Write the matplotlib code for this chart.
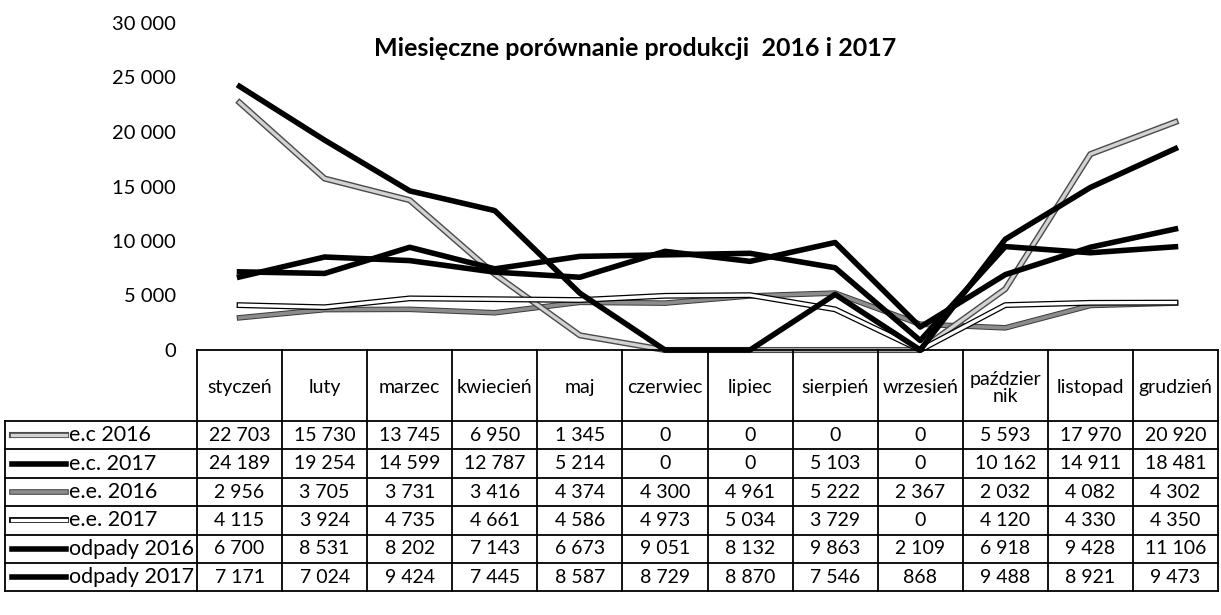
import matplotlib
matplotlib.use("Agg")
import matplotlib.pyplot as plt
import matplotlib.patheffects as pe
import numpy as np

plt.rcParams['font.family'] = ['Lato', 'DejaVu Sans']

months = ["styczeń", "luty", "marzec", "kwiecień", "maj", "czerwiec", "lipiec",
          "sierpień", "wrzesień", "paździer\nnik", "listopad", "grudzień"]
series_names = ["e.c 2016", "e.c. 2017", "e.e. 2016", "e.e. 2017", "odpady 2016", "odpady 2017"]
ec_2016 = [22703, 15730, 13745, 6950, 1345, 0, 0, 0, 0, 5593, 17970, 20920]
ec_2017 = [24189, 19254, 14599, 12787, 5214, 0, 0, 5103, 0, 10162, 14911, 18481]
ee_2016 = [2956, 3705, 3731, 3416, 4374, 4300, 4961, 5222, 2367, 2032, 4082, 4302]
ee_2017 = [4115, 3924, 4735, 4661, 4586, 4973, 5034, 3729, 0, 4120, 4330, 4350]
odpady_2016 = [6700, 8531, 8202, 7143, 6673, 9051, 8132, 9863, 2109, 6918, 9428, 11106]
odpady_2017 = [7171, 7024, 9424, 7445, 8587, 8729, 8870, 7546, 868, 9488, 8921, 9473]
y_ticks = [0, 5000, 10000, 15000, 20000, 25000, 30000]
title = "Miesięczne porównanie produkcji  2016 i 2017"

series = [ec_2016, ec_2017, ee_2016, ee_2017, odpady_2016, odpady_2017]

# styles: (inner colour, inner width, outline colour, outline width)
styles = [
    ("#d2d2d2", 2.4, "#4a4a4a", 4.4),
    ("#000000", 4.0, None, None),
    ("#8c8c8c", 2.6, "#3a3a3a", 4.0),
    ("#ffffff", 2.4, "#000000", 4.2),
    ("#000000", 4.0, None, None),
    ("#000000", 4.0, None, None),
]

W, H = 1221, 615
fig = plt.figure(figsize=(W / 100, H / 100), dpi=100)
fig.patch.set_facecolor("white")

x0, x1 = 197, 1218
ytop, ybot = 23, 350
ax = fig.add_axes([x0 / W, 1 - ybot / H, (x1 - x0) / W, (ybot - ytop) / H])
n = len(months)
x = np.arange(n)
ax.set_xlim(-0.5, n - 0.5)
ax.set_ylim(0, 30000)

zorders = [3, 5, 2, 3, 4, 4]
for vals, (c, lw, oc, ow), z in zip(series, styles, zorders):
    if oc is None:
        ax.plot(x, vals, color=c, lw=lw, zorder=z, clip_on=False)
    else:
        ax.plot(x, vals, color=c, lw=lw, zorder=z, clip_on=False,
                path_effects=[pe.Stroke(linewidth=ow, foreground=oc), pe.Normal()])

ax.set_yticks(y_ticks)
ax.set_yticklabels([f"{v:,}".replace(",", " ") for v in y_ticks], fontsize=14.5)
ax.tick_params(axis="y", length=0, pad=15)
ax.set_xticks([])
for s in ["top", "right", "left", "bottom"]:
    ax.spines[s].set_visible(False)
ax.set_facecolor("none")

fig.text(635 / W, 1 - 48 / H, title, ha="center", va="center", fontsize=18, fontweight="bold")

# table drawn on a pixel-coordinate overlay axes
tx = fig.add_axes([0, 0, 1, 1])
tx.set_xlim(0, W)
tx.set_ylim(H, 0)
tx.axis("off")

col_w = (x1 - x0) / n
col_edges = [x0 + i * col_w for i in range(n + 1)]
head_top, head_bot = 350, 421
row_h = 28.4
row_edges = [head_bot + i * row_h for i in range(len(series) + 1)]
left = 5
lc = "black"
lwt = 1.3

tx.plot([x0, x1], [head_top, head_top], color=lc, lw=lwt)
for xe in col_edges:
    tx.plot([xe, xe], [head_top, row_edges[-1]], color=lc, lw=lwt)
for ye in row_edges:
    tx.plot([left, x1], [ye, ye], color=lc, lw=lwt)
tx.plot([left, left], [head_bot, row_edges[-1]], color=lc, lw=lwt)

for i, m in enumerate(months):
    cx = (col_edges[i] + col_edges[i + 1]) / 2
    tx.text(cx, (head_top + head_bot) / 2 + 2, m, ha="center", va="center",
            fontsize=14, linespacing=1.0)

for r, (name, vals, (c, lw, oc, ow)) in enumerate(zip(series_names, series, styles)):
    cy = (row_edges[r] + row_edges[r + 1]) / 2
    if oc is None:
        tx.plot([12, 66], [cy, cy], color=c, lw=lw)
    else:
        tx.plot([12, 66], [cy, cy], color=c, lw=lw,
                path_effects=[pe.Stroke(linewidth=ow, foreground=oc), pe.Normal()])
    tx.text(69, cy, name, ha="left", va="center", fontsize=15.5)
    for i, v in enumerate(vals):
        cx = (col_edges[i] + col_edges[i + 1]) / 2
        tx.text(cx, cy, f"{v:,}".replace(",", " "), ha="center", va="center", fontsize=14)

fig.savefig("out.png", dpi=100, facecolor="white")
